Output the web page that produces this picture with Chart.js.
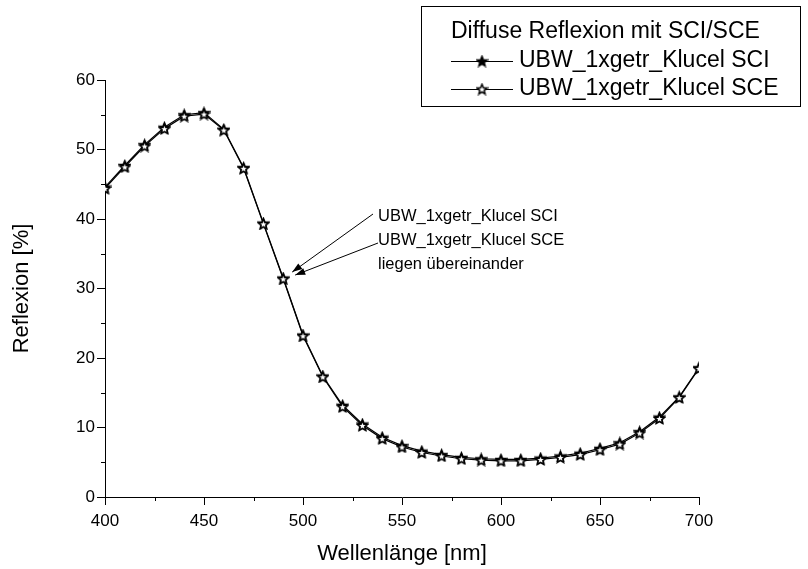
<!DOCTYPE html>
<html><head><meta charset="utf-8">
<script src="https://cdn.jsdelivr.net/npm/chart.js@4/dist/chart.umd.min.js"></script>
<style>html,body{margin:0;padding:0;background:#fff;}#wrap{width:808px;height:569px;}</style>
</head><body><div id="wrap"><canvas id="c" width="808" height="569"></canvas></div>
<script>
const wavelengths = [400,410,420,430,440,450,460,470,480,490,500,510,520,530,540,550,560,570,580,590,600,610,620,630,640,650,660,670,680,690,700];
const sciValues = [44.6,47.7,50.7,53.2,55.0,55.3,52.9,47.4,39.4,31.5,23.3,17.4,13.2,10.5,8.6,7.4,6.6,6.1,5.7,5.5,5.4,5.4,5.6,5.9,6.3,7.0,7.8,9.4,11.5,14.4,18.6];
const sceValues = [44.4,47.5,50.5,53.0,54.8,55.1,52.8,47.3,39.3,31.4,23.2,17.3,13.0,10.3,8.4,7.2,6.4,5.9,5.5,5.3,5.2,5.2,5.4,5.7,6.1,6.8,7.6,9.2,11.3,14.3,18.5];
const seriesLabels = ['UBW_1xgetr_Klucel SCI','UBW_1xgetr_Klucel SCE'];
const legendTitle = 'Diffuse Reflexion mit SCI/SCE';
const annotationLines = ['UBW_1xgetr_Klucel SCI','UBW_1xgetr_Klucel SCE','liegen übereinander'];
const xTickValues = [400,450,500,550,600,650,700];
const xMinorTickValues = [425,475,525,575,625,675];
const yTickValues = [0,10,20,30,40,50,60];
const yMinorTickValues = [5,15,25,35,45,55];
const xTitle = 'Wellenlänge [nm]';
const yTitle = 'Reflexion [%]';
const annotatedIndex = 9;

const FONT = "'Liberation Sans', Arial, sans-serif";

function starCanvas(fill, size){
  const c=document.createElement('canvas'); c.width=size; c.height=size;
  const g=c.getContext('2d');
  const cx=size/2, cy=size/2+0.6, R=size/2-1.2, r=R*0.45;
  g.beginPath();
  for(let i=0;i<10;i++){const a=-Math.PI/2+i*Math.PI/5;const rr=i%2?r:R;g.lineTo(cx+rr*Math.cos(a),cy+rr*Math.sin(a));}
  g.closePath(); g.fillStyle=fill; g.fill(); g.lineWidth=1.5; g.strokeStyle='#000'; g.lineJoin='miter'; g.stroke();
  return c;
}
const starFilled = starCanvas('#000', 13);
const starOpen = starCanvas('#fff', 13);

const decorPlugin = {
  id:'decor',
  afterDraw(chart){
    const ctx=chart.ctx, xs=chart.scales.x, ys=chart.scales.y, ca=chart.chartArea;
    ctx.save();
    ctx.strokeStyle='#000'; ctx.lineWidth=1;
    // minor ticks
    yMinorTickValues.forEach(v=>{const p=Math.round(ys.getPixelForValue(v))+0.5;ctx.beginPath();ctx.moveTo(ca.left-4,p);ctx.lineTo(ca.left,p);ctx.stroke();});
    xMinorTickValues.forEach(v=>{const p=Math.round(xs.getPixelForValue(v))+0.5;ctx.beginPath();ctx.moveTo(p,ca.bottom);ctx.lineTo(p,ca.bottom+4);ctx.stroke();});
    // legend
    const bx=421.5, by=6.5, bw=379, bh=100;
    ctx.lineWidth=1; ctx.strokeStyle='#000'; ctx.strokeRect(bx,by,bw,bh);
    ctx.fillStyle='#000'; ctx.font='23px '+FONT; ctx.textBaseline='middle'; ctx.textAlign='left';
    ctx.fillText(legendTitle, 451, 32);
    const stars=[starFilled, starOpen];
    seriesLabels.forEach((lab,i)=>{
      const yy=61+i*28;
      ctx.beginPath(); ctx.moveTo(451,yy+0.5); ctx.lineTo(513,yy+0.5); ctx.stroke();
      ctx.drawImage(stars[i], 482-6.5, yy-6.5);
      ctx.fillText(lab, 519, yy);
    });
    // annotation
    ctx.font='16.5px '+FONT;
    annotationLines.forEach((t,i)=>ctx.fillText(t, 378, 216+i*24));
    const tipX=xs.getPixelForValue(wavelengths[annotatedIndex]);
    const tipY=ys.getPixelForValue(sciValues[annotatedIndex]);
    const arrows=[[373,214,tipX+9,tipY-6],[378,243,tipX+12,tipY-3]];
    arrows.forEach(([x0,y0,x1,y1])=>{
      ctx.beginPath(); ctx.moveTo(x0,y0); ctx.lineTo(x1,y1); ctx.stroke();
      const ang=Math.atan2(y1-y0,x1-x0), L=10, W=3.5;
      ctx.beginPath(); ctx.moveTo(x1,y1);
      ctx.lineTo(x1-L*Math.cos(ang)+W*Math.sin(ang), y1-L*Math.sin(ang)-W*Math.cos(ang));
      ctx.lineTo(x1-L*Math.cos(ang)-W*Math.sin(ang), y1-L*Math.sin(ang)+W*Math.cos(ang));
      ctx.closePath(); ctx.fill();
    });
    ctx.restore();
  }
};

const toPts = vals => wavelengths.map((w,i)=>({x:w,y:vals[i]}));

new Chart(document.getElementById('c'), {
  type:'scatter',
  data:{datasets:[
    {label:seriesLabels[0], data:toPts(sciValues), showLine:true, borderColor:'#000', borderWidth:1.2, pointStyle:starFilled, pointRadius:6, clip:0, order:2, tension:0},
    {label:seriesLabels[1], data:toPts(sceValues), showLine:true, borderColor:'#000', borderWidth:1.2, pointStyle:starOpen, pointRadius:6, clip:0, order:1, tension:0}
  ]},
  options:{
    responsive:false, devicePixelRatio:1, animation:false,
    layout:{padding:{left:0,top:80,right:109,bottom:0}},
    plugins:{legend:{display:false}, tooltip:{enabled:false}},
    scales:{
      x:{type:'linear', min:400, max:700,
        afterBuildTicks:s=>{s.ticks=xTickValues.map(v=>({value:v}));},
        afterFit:s=>{s.height=72;},
        grid:{drawOnChartArea:false, drawTicks:true, tickLength:8, tickColor:'#000', tickWidth:1},
        border:{display:true,color:'#000',width:1},
        ticks:{color:'#000', font:{family:FONT,size:17}, padding:6, maxRotation:0},
        title:{display:true, text:xTitle, color:'#000', font:{family:FONT,size:22}, padding:{top:0,bottom:2}}
      },
      y:{type:'linear', min:0, max:60,
        afterBuildTicks:s=>{s.ticks=yTickValues.map(v=>({value:v}));},
        afterFit:s=>{s.width=105;},
        grid:{drawOnChartArea:false, drawTicks:true, tickLength:8, tickColor:'#000', tickWidth:1},
        border:{display:true,color:'#000',width:1},
        ticks:{color:'#000', font:{family:FONT,size:17}, padding:2},
        title:{display:true, text:yTitle, color:'#000', font:{family:FONT,size:22}, padding:{top:9,bottom:0}}
      }
    }
  },
  plugins:[decorPlugin]
});
</script></body></html>
